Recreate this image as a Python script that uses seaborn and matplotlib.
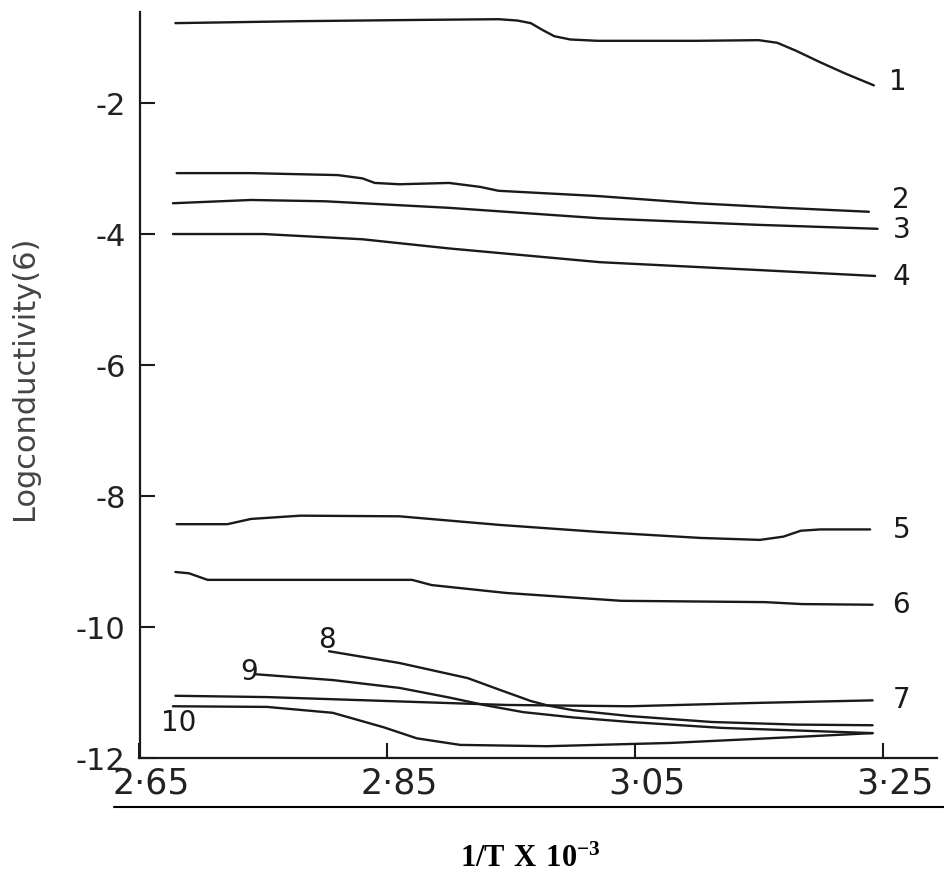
import pandas as pd
import matplotlib
matplotlib.use('Agg')
import matplotlib.pyplot as plt
import seaborn as sns
from matplotlib.lines import Line2D
from matplotlib.transforms import ScaledTranslation

# curve data (1/T x 10^-3, log conductivity)
x1 = [2.679, 2.78, 2.88, 2.94, 2.955, 2.966, 2.975, 2.985, 2.998, 3.02, 3.10, 3.15, 3.165, 3.18, 3.20, 3.22, 3.243]
y1 = [-0.78, -0.75, -0.73, -0.72, -0.74, -0.78, -0.88, -0.98, -1.03, -1.05, -1.05, -1.04, -1.08, -1.20, -1.38, -1.55, -1.73]
x2 = [2.680, 2.74, 2.81, 2.83, 2.84, 2.86, 2.90, 2.925, 2.94, 2.98, 3.02, 3.10, 3.17, 3.239]
y2 = [-3.07, -3.07, -3.10, -3.15, -3.22, -3.24, -3.22, -3.28, -3.34, -3.38, -3.42, -3.53, -3.60, -3.66]
x3 = [2.677, 2.74, 2.80, 2.90, 3.022, 3.15, 3.246]
y3 = [-3.53, -3.48, -3.50, -3.60, -3.76, -3.86, -3.92]
x4 = [2.677, 2.75, 2.83, 2.90, 3.022, 3.15, 3.244]
y4 = [-4.00, -4.00, -4.08, -4.22, -4.43, -4.55, -4.64]
x5 = [2.680, 2.721, 2.74, 2.78, 2.86, 2.94, 3.022, 3.103, 3.151, 3.17, 3.184, 3.20, 3.240]
y5 = [-8.43, -8.43, -8.35, -8.30, -8.31, -8.44, -8.55, -8.64, -8.67, -8.62, -8.53, -8.51, -8.51]
x6 = [2.679, 2.69, 2.705, 2.78, 2.87, 2.886, 2.946, 3.039, 3.155, 3.185, 3.242]
y6 = [-9.16, -9.18, -9.28, -9.28, -9.28, -9.36, -9.48, -9.60, -9.62, -9.65, -9.66]
x7 = [2.679, 2.753, 2.834, 2.946, 3.046, 3.146, 3.242]
y7 = [-11.05, -11.07, -11.12, -11.19, -11.21, -11.16, -11.12]
x8 = [2.803, 2.86, 2.915, 2.941, 2.966, 2.98, 3.00, 3.046, 3.112, 3.18, 3.242]
y8 = [-10.37, -10.55, -10.78, -10.96, -11.13, -11.20, -11.27, -11.36, -11.45, -11.49, -11.50]
x9 = [2.743, 2.806, 2.86, 2.901, 2.928, 2.96, 3.00, 3.046, 3.12, 3.242]
y9 = [-10.72, -10.81, -10.93, -11.08, -11.19, -11.30, -11.38, -11.45, -11.54, -11.62]
x10 = [2.677, 2.753, 2.806, 2.847, 2.874, 2.909, 2.979, 3.079, 3.179, 3.242]
y10 = [-11.21, -11.22, -11.31, -11.53, -11.70, -11.80, -11.82, -11.77, -11.68, -11.62]

curve_names = ['1', '2', '3', '4', '5', '6', '7', '8', '9', '10']
xs = [x1, x2, x3, x4, x5, x6, x7, x8, x9, x10]
ys = [y1, y2, y3, y4, y5, y6, y7, y8, y9, y10]

# where the curve numbers are written
label_x = [3.255, 3.258, 3.258, 3.258, 3.258, 3.258, 3.258, 2.794, 2.731, 2.667]
label_y = [-1.68, -3.48, -3.94, -4.66, -8.52, -9.66, -11.11, -10.20, -10.69, -11.47]

xticks = [2.65, 2.85, 3.05, 3.25]
xtick_labels = ['2·65', '2·85', '3·05', '3·25']
yticks = [-2, -4, -6, -8, -10, -12]
ytick_labels = ['-2', '-4', '-6', '-8', '-10', '-12']

rows = []
for name, xv, yv in zip(curve_names, xs, ys):
    for a, b in zip(xv, yv):
        rows.append({'curve': name, 'invT': a, 'logcond': b})
df = pd.DataFrame(rows)

sns.set_style('ticks')
plt.rcParams['font.family'] = ['DejaVu Sans']
plt.rcParams['mathtext.fontset'] = 'custom'
plt.rcParams['mathtext.rm'] = 'Liberation Serif:bold'

fig = plt.figure(figsize=(9.45, 8.73), dpi=100)
ax = fig.add_axes([139.5 / 945, 1 - 758 / 873, (937 - 139.5) / 945, (758 - 12) / 873])

sns.lineplot(data=df, x='invT', y='logcond', hue='curve', units='curve', estimator=None,
             palette=['#1a1a1a'] * len(curve_names), linewidth=1.7, legend=False, ax=ax)

for t, lx, ly in zip(curve_names, label_x, label_y):
    ax.text(lx, ly, t, fontsize=20, color='#1a1a1a', ha='left', va='center')

ax.set_xlim(2.65, 3.294)
ax.set_ylim(-12, -0.61)
ax.set_xticks(xticks)
ax.set_xticklabels(xtick_labels, fontsize=25, color='#222222')
ax.set_yticks(yticks)
ax.set_yticklabels(ytick_labels, fontsize=22, color='#222222')
ax.tick_params(axis='both', direction='in', length=11, width=1.5, color='#1a1a1a')
ax.tick_params(axis='x', pad=6)
ax.tick_params(axis='y', pad=10)
for lab in ax.get_xticklabels():
    lab.set_transform(lab.get_transform() + ScaledTranslation(0.12, 0, fig.dpi_scale_trans))
ax.set_xlabel('')
ax.set_ylabel('')
sns.despine(ax=ax)
for s in ['left', 'bottom']:
    ax.spines[s].set_linewidth(1.6)
    ax.spines[s].set_color('#1a1a1a')

fig.text(25 / 945, 1 - 378 / 873, 'Logconductivity(6)', rotation=90, fontsize=22,
         color='#444444', ha='center', va='center')

# rule under the tick labels, and the printed axis title
fig.add_artist(Line2D([114 / 945, 1.0], [1 - 807 / 873, 1 - 807 / 873], color='black', linewidth=1.5))
fig.text(530 / 945, 1 - 858 / 873, r'$\mathrm{1/T\ X\ 10^{-3}}$', fontsize=22,
         color='black', ha='center', va='center')

fig.savefig('out.png', dpi=100, facecolor='white')
